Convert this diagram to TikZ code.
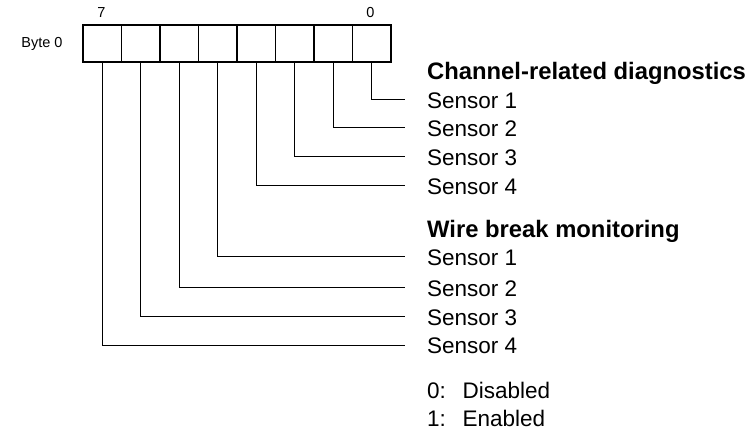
\documentclass[tikz,border=0pt]{standalone}
\usepackage{fontspec}
\setmainfont{Liberation Sans}
\begin{document}
\begin{tikzpicture}[x=1pt,y=-1pt,
  cell/.style={draw,line width=1.1pt,minimum width=38.5pt,minimum height=37pt,inner sep=0pt},
  wire/.style={line width=1pt},
  small/.style={font=\fontsize{14.5}{16}\selectfont,inner sep=0pt},
  label/.style={font=\fontsize{22.5}{26}\selectfont,inner sep=0pt,anchor=base west},
  head/.style={font=\fontsize{23.8}{27}\selectfont\bfseries,inner sep=0pt,anchor=base west}]
\useasboundingbox (0,0) rectangle (749,438);

% byte register, bit 7 on the left
\foreach \i in {0,...,7}{
  \node[cell] (b\i) at ({83+38.5*(7-\i)+19.25},43.5) {};
}
\node[small] (bytelbl) at (42,43.5) {Byte 0};
\node[small] (msb) at (101.5,13) {7};
\node[small] (lsb) at (370.5,13) {0};

% line ends
\coordinate (e0) at (405,100);
\coordinate (e1) at (405,128);
\coordinate (e2) at (405,157);
\coordinate (e3) at (405,186);
\coordinate (e4) at (405,257);
\coordinate (e5) at (405,287.5);
\coordinate (e6) at (405,316.5);
\coordinate (e7) at (405,345);

\foreach \i in {0,...,7}{
  \draw[wire] (b\i.south) |- (e\i);
}

% texts
\node[head] (hcd) at (427,79.4) {Channel-related diagnostics};
\node[label] (cs1) at (427,108.8) {Sensor 1};
\node[label] (cs2) at (427,136.8) {Sensor 2};
\node[label] (cs3) at (427,165.8) {Sensor 3};
\node[label] (cs4) at (427,194.8) {Sensor 4};

\node[head] (hwb) at (427,237.4) {Wire break monitoring};
\node[label] (ws1) at (427,265.8) {Sensor 1};
\node[label] (ws2) at (427,296.3) {Sensor 2};
\node[label] (ws3) at (427,325.3) {Sensor 3};
\node[label] (ws4) at (427,353.8) {Sensor 4};

\node[label] (off) at (427,398) {\makebox[35.5pt][l]{0:}Disabled};
\node[label] (on) at (427,426) {\makebox[35.5pt][l]{1:}Enabled};
\end{tikzpicture}
\end{document}
